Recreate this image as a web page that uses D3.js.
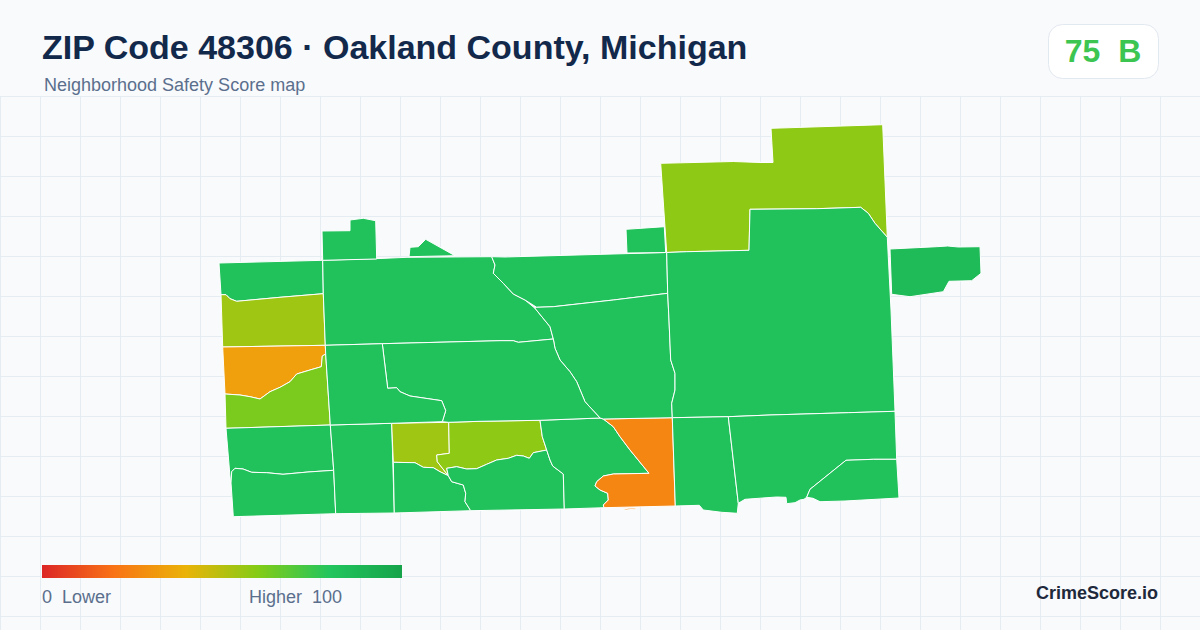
<!DOCTYPE html>
<html><head><meta charset="utf-8">
<script src="https://cdn.jsdelivr.net/npm/d3@7/dist/d3.min.js"></script>
<style>html,body{margin:0;padding:0;background:#f8fafc;overflow:hidden}svg{display:block}text{font-family:"Liberation Sans",Arial,sans-serif;white-space:pre}</style>
</head><body><svg id="c" width="1200" height="630"></svg>
<script>
const titleText = "ZIP Code 48306 · Oakland County, Michigan";
const subtitleText = "Neighborhood Safety Score map";
const scoreText = "75  B";
const brandText = "CrimeScore.io";
const legendLabels = ["0  Lower", "Higher  100"];
const legendStops = [[0,"#dc2626"],[20,"#f97316"],[40,"#eab308"],[60,"#84cc16"],[80,"#22c55e"],[100,"#16a34a"]];

// Tract outlines in map units
const tractA=[[219,263],[322.7,260.3],[323.3,293.7],[280,297.3],[236.7,301.3],[230,298.7],[226,294.7],[221,294.7]];
const tractB=[[221,294.7],[226,294.7],[230,298.7],[236.7,301.3],[280,297.3],[323.3,293.7],[325.3,345.3],[222.7,347]];
const tractC=[[222.7,347],[325.3,345.3],[325.7,354],[322.3,356],[321.3,366.7],[310,370],[296.7,374],[290,381.7],[280,387.3],[270,391.7],[260,399],[250,396.7],[240,395],[225,394]];
const tractD=[[225,394],[240,395],[250,396.7],[260,399],[270,391.7],[280,387.3],[290,381.7],[296.7,374],[310,370],[321.3,366.7],[322.3,356],[325.7,354],[330.3,425],[278.3,426.7],[226,428.3]];
const tractE=[[226,428.3],[330.3,425],[333.7,470.3],[308,472],[283,474.3],[266.7,472.7],[251.7,472.3],[243,469],[235,468.3],[231.7,471.7],[231,483],[230.5,483]];
const tractF=[[235,468.3],[243,469],[251.7,472.3],[266.7,472.7],[283,474.3],[308,472],[333.7,470.3],[335.7,513.7],[233.3,516.7],[231.3,487],[231,483],[231.7,471.7]];
const tractG=[[330.3,425],[391.7,423.3],[394.3,513],[335.7,513.7],[333.7,470.3]];
const tractH=[[391.7,423.3],[448.7,422.3],[449.3,453.3],[436.7,455],[437.3,461.7],[448.3,475.7],[440,471.7],[433.3,467.7],[423.3,467.3],[415,462.7],[393.3,462.3]];
const tractI=[[448.7,422.3],[480,421.3],[540,420.3],[542.3,436.7],[546.7,450],[533.3,452.7],[529.3,458.3],[523.3,456],[516.7,455.3],[508.3,458.3],[496.7,460],[486.7,464.3],[476.7,468.7],[466.7,469],[456.7,466.7],[446.7,468.3],[448.3,475.7],[437.3,461.7],[436.7,455],[449.3,453.3]];
const tractJ=[[393.3,462.3],[415,462.7],[423.3,467.3],[433.3,467.7],[440,471.7],[448.3,475.7],[451.7,481.7],[463.3,485],[465.7,493.3],[465,501.7],[470.7,510.7],[394.3,513]];
const tractK=[[448.3,475.7],[446.7,468.3],[456.7,466.7],[466.7,469],[476.7,468.7],[486.7,464.3],[496.7,460],[508.3,458.3],[516.7,455.3],[523.3,456],[529.3,458.3],[533.3,452.7],[546.7,450],[550,460],[552.7,466],[563.3,474],[564.3,509],[470.7,510.7],[465,501.7],[465.7,493.3],[463.3,485],[451.7,481.7]];
const tractL=[[540,420.3],[600,418],[603.3,419],[613.3,426.7],[620,436.7],[630,450],[649,473.3],[613.3,474],[603.3,476],[596.7,481.7],[595,486],[600,490],[607.7,493.3],[608.3,500],[603.3,505],[604,507.7],[564.3,509],[563.3,474],[552.7,466],[550,460],[546.7,450],[542.3,436.7]];
const tractM=[[603.3,419],[672.3,417.7],[675.3,506],[604,507.7],[603.3,505],[608.3,500],[607.7,493.3],[600,490],[595,486],[596.7,481.7],[603.3,476],[613.3,474],[649,473.3],[630,450],[620,436.7],[613.3,426.7]];
const tractM2=[[621.7,509.6],[628,508.2],[636,508],[636,509],[626,510]];
const tractN=[[322.7,260.3],[380,258.5],[407,257.3],[491.7,256.7],[495,265],[493.3,273.3],[503.3,283.3],[513.3,294],[525,300],[535,308.3],[550,326.7],[553.3,339],[518.3,342.3],[513.3,340.7],[500,340.7],[382.3,343.7],[325.3,345.3],[323.3,293.7]];
const tractO=[[491.7,256.7],[505,257],[666.7,252.5],[667.7,293.3],[613.3,300],[553.3,306.7],[536.7,307.3],[525,300],[513.3,294],[503.3,283.3],[493.3,273.3],[495,265]];
const tractP=[[536.7,307.3],[553.3,306.7],[613.3,300],[667.7,293.3],[669,320],[670.7,360],[675,373.3],[675,390],[671.7,403.3],[672.3,417.7],[603.3,419],[600,418],[585,401.7],[576.7,381.7],[570,371.7],[560,360],[555,348.3],[553.3,339],[550,326.7],[535,308.3]];
const tractQ=[[382.3,343.7],[500,340.7],[513.3,340.7],[518.3,342.3],[553.3,339],[555,348.3],[560,360],[570,371.7],[576.7,381.7],[585,401.7],[600,418],[540,420.3],[480,421.3],[448.7,422.3],[442.3,421.7],[445.7,410.7],[441.7,400.7],[410,396],[400,391.7],[396.7,387.7],[387.7,388.3]];
const tractR=[[325.3,345.3],[382.3,343.7],[387.7,388.3],[396.7,387.7],[400,391.7],[410,396],[441.7,400.7],[445.7,410.7],[442.3,421.7],[391.7,423.3],[330.3,425],[325.7,354]];
const tractS=[[322,231],[350,230.7],[350,220],[363.3,218.3],[375.7,220.7],[376.7,259],[322.7,260.3]];
const tractT=[[409,256.7],[410,247.3],[418.3,246.7],[425.7,239.3],[455,255.7]];
const tractU=[[626,229.3],[664.3,226.7],[665.7,252.5],[627,253]];
const tractV=[[660.7,163.3],[733.3,161.5],[760,162.5],[773,162.5],[771,128.3],[882.7,124.7],[887.3,237.3],[875,223.3],[868.3,213.3],[860.7,207.3],[816.7,208.7],[750,209.3],[749,250.3],[686.7,251.7],[666.7,252.5]];
const tractW=[[666.7,252.5],[686.7,251.7],[749,250.3],[750,209.3],[816.7,208.7],[860.7,207.3],[868.3,213.3],[875,223.3],[887.3,237.3],[891,310],[895,411.3],[848.3,412.7],[770,415],[728.3,416.7],[672.3,417.7],[671.7,403.3],[675,390],[675,373.3],[670.7,360],[669,320],[667.7,293.3]];
const tractX=[[672.3,417.7],[728.3,416.7],[738.3,503.3],[737.3,513.3],[721.7,512.3],[703.3,510],[699.3,505.3],[675.3,506]];
const tractY=[[728.3,416.7],[770,415],[848.3,412.7],[895,411.3],[896.7,459.3],[873.3,459.3],[846,460.3],[810,489.3],[806.7,497.3],[804,499.3],[800,500],[795,502.7],[786.7,503.7],[786,497.3],[776.7,497],[745,499.3],[738.3,503.3]];
const tractZ=[[896.7,459.3],[899,498],[845,501],[820,501.7],[813,498.3],[806.7,497.3],[810,489.3],[846,460.3],[873.3,459.3]];
const tractAA=[[890,249],[936.7,246.7],[947.7,246],[958.3,247],[980,246.7],[981,273.3],[971.7,280.7],[949,281.3],[943.3,291.7],[910,296.7],[891.7,294.3]];

const tracts=[tractA,tractB,tractC,tractD,tractE,tractF,tractG,tractH,tractI,tractJ,tractK,tractL,tractM,tractM2,tractN,tractO,tractP,tractQ,tractR,tractS,tractT,tractU,tractV,tractW,tractX,tractY,tractZ,tractAA];
const tractScores=[82,55,34,62,82,82,82,55,58,82,82,82,26,26,82,82,82,82,82,82,82,82,58,82,82,82,82,86];

const svg=d3.select("#c");
const W=1200,H=630;
const defs=svg.append("defs");
const pat=defs.append("pattern").attr("id","grid").attr("patternUnits","userSpaceOnUse")
  .attr("x",0).attr("y",96).attr("width",40).attr("height",40);
pat.append("path").attr("d","M0 0.5H40M0.5 0V40").attr("fill","none").attr("stroke","#e6edf2").attr("stroke-width",1);
const grad=defs.append("linearGradient").attr("id","lg");
grad.selectAll("stop").data(legendStops).join("stop").attr("offset",d=>d[0]+"%").attr("stop-color",d=>d[1]);

svg.append("rect").attr("width",W).attr("height",H).attr("fill","#f8fafc");
svg.append("rect").attr("y",96).attr("width",W).attr("height",H-96).attr("fill","url(#grid)");

const x=d3.scaleLinear().domain([0,1200]).range([0,W]);
const y=d3.scaleLinear().domain([0,630]).range([0,H]);
const color=d3.scaleLinear().domain(legendStops.map(d=>d[0])).range(legendStops.map(d=>d[1])).interpolate(d3.interpolateRgb);
const outline=d3.line().x(d=>x(d[0])).y(d=>y(d[1])).curve(d3.curveLinearClosed);

svg.append("g").selectAll("path").data(tracts).join("path")
  .attr("d",outline)
  .attr("fill",(d,i)=>color(tractScores[i]))
  .attr("stroke","#fff").attr("stroke-width",1).attr("stroke-linejoin","round");

svg.append("text").attr("x",42).attr("y",59).attr("font-size",34).attr("font-weight",700).attr("fill","#13294b").text(titleText);
svg.append("text").attr("x",44).attr("y",91).attr("font-size",18).attr("fill","#5b6f8d").text(subtitleText);

svg.append("rect").attr("x",1048.5).attr("y",24.5).attr("width",110).attr("height",54).attr("rx",14).attr("fill","#fff").attr("stroke","#e2e8f0");
svg.append("text").attr("x",1103).attr("y",62).attr("text-anchor","middle").attr("font-size",32).attr("font-weight",700).attr("fill","#3dc552").text(scoreText);

svg.append("rect").attr("x",42).attr("y",565).attr("width",360).attr("height",13).attr("fill","url(#lg)");
svg.append("text").attr("x",42).attr("y",603).attr("font-size",18).attr("fill","#5b6f8d").text(legendLabels[0]);
svg.append("text").attr("x",342).attr("y",603).attr("text-anchor","end").attr("font-size",18).attr("fill","#5b6f8d").text(legendLabels[1]);
svg.append("text").attr("x",1158).attr("y",599).attr("text-anchor","end").attr("font-size",18).attr("font-weight",700).attr("fill","#1e293b").text(brandText);
</script></body></html>
